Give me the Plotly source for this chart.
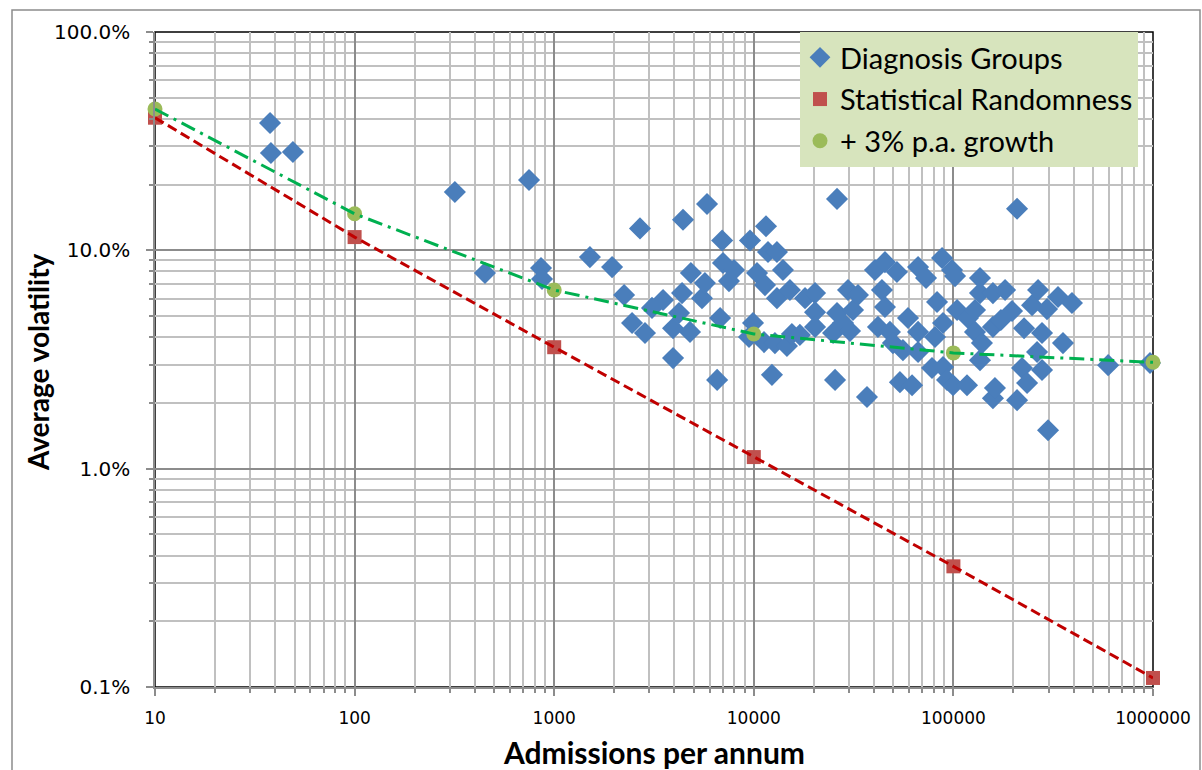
import plotly.graph_objects as go

# Diagnosis groups: admissions per annum and average volatility (%)
dg_admissions = [37.7, 38.1, 49.1, 318, 450, 748, 859, 869, 1510, 1950, 2240, 2690, 2455, 2850, 3090,
                 3510, 3940, 4220, 4370, 4790, 4840, 5500, 5690, 4420, 5830, 3940, 6550, 6780, 6940,
                 7010, 7510, 7960, 9570, 9910, 9460, 10380, 11380, 11510, 11780, 13060, 13060, 14000,
                 12330, 11250, 12760, 14660, 15170, 15520, 17020, 18060, 20270, 20270, 20270, 24950,
                 25530, 26120, 26120, 29650, 27990, 30340, 31410, 33260, 36900, 40460, 41890, 43860,
                 45410, 45410, 48090, 49780, 52130, 53960, 55860, 59230, 62080, 66510, 66510, 66510,
                 72930, 78140, 80900, 82800, 87730, 88720, 88720, 92900, 98400, 99600, 101900, 104300,
                 117000, 118300, 128300, 128300, 135900, 135900, 135900, 139000, 157800, 157800,
                 157800, 161500, 173000, 181500, 196700, 208400, 208400, 220700, 226000, 234000,
                 247800, 262500, 265600, 278000, 278000, 294500, 298000, 334300, 354000, 392700,
                 596000, 966000]
dg_volatility = [38.3, 27.9, 28.2, 18.5, 7.87, 21.0, 8.30, 7.39, 9.31, 8.38, 6.24, 12.6, 4.65, 4.18, 5.45,
                 5.92, 4.40, 5.16, 6.37, 4.23, 7.87, 6.04, 7.08, 13.8, 16.3, 3.21, 2.55, 4.90, 11.1,
                 8.75, 7.23, 8.13, 11.1, 4.65, 4.01, 7.87, 6.93, 12.9, 9.82, 9.82, 6.04, 8.13,
                 2.69, 3.80, 3.76, 3.65, 6.58, 4.14, 4.10, 6.04, 6.37, 5.21, 4.46, 4.18,
                 2.55, 17.2, 5.16, 6.58, 4.65, 4.27, 5.33, 6.24, 2.13, 8.13, 4.46, 6.58,
                 8.83, 5.50, 4.23, 3.76, 7.96, 2.49, 3.49, 4.90, 2.41, 8.38, 4.23, 3.42,
                 7.47, 2.89, 4.01, 5.80, 9.22, 4.65, 2.92, 2.55, 8.13, 2.41, 7.62, 5.33,
                 2.41, 4.90, 5.33, 4.23, 7.47, 6.37, 3.14, 3.76, 6.37, 4.46,
                 2.10, 2.34, 4.80, 6.58, 5.27, 15.5, 2.06, 2.89, 4.40, 2.47,
                 5.61, 3.42, 6.58, 4.18, 2.83, 5.38, 1.50, 6.11, 3.76, 5.74,
                 2.98, 3.05]

# Reference curves
ref_admissions = [10, 100, 1000, 10000, 100000, 1000000]
stat_volatility = [40.5, 11.5, 3.6, 1.13, 0.357, 0.11]
growth_volatility = [44.4, 14.7, 6.58, 4.14, 3.39, 3.07]

series_names = ["Diagnosis Groups", "Statistical Randomness", "+ 3% p.a. growth"]
x_tickvals = [10, 100, 1000, 10000, 100000, 1000000]
x_ticktext = ["10", "100", "1000", "10000", "100000", "1000000"]
y_tickvals = [0.1, 1, 10, 100]
y_ticktext = ["0.1%", "1.0%", "10.0%", "100.0%"]

BLUE = "#4A7EBB"
RED = "#C0504D"
GREEN = "#9BBB59"

fig = go.Figure()
fig.add_trace(go.Scatter(x=dg_admissions, y=dg_volatility, mode="markers", name=series_names[0],
                         marker=dict(symbol="diamond", size=17, color=BLUE, line=dict(width=0)),
                         cliponaxis=False, legendgroup="a"))
fig.add_trace(go.Scatter(x=ref_admissions, y=stat_volatility, mode="markers", name=series_names[1],
                         marker=dict(symbol="square", size=14, color=RED, line=dict(width=0)),
                         cliponaxis=False, legendgroup="b"))
fig.add_trace(go.Scatter(x=ref_admissions, y=growth_volatility, mode="markers", name=series_names[2],
                         marker=dict(symbol="circle", size=15, color=GREEN, line=dict(width=0)),
                         cliponaxis=False, legendgroup="c"))
fig.add_trace(go.Scatter(x=ref_admissions, y=stat_volatility, mode="lines", showlegend=False,
                         line=dict(color="#C00000", width=3, dash="10px,5px"), cliponaxis=False,
                         hoverinfo="skip"))
fig.add_trace(go.Scatter(x=ref_admissions, y=growth_volatility, mode="lines", showlegend=False,
                         line=dict(color="#00B050", width=3, dash="15px,6px,3px,6px"), cliponaxis=False,
                         hoverinfo="skip"))

W, H = 1202, 770
L, R, T, B = 155, 1153, 32, 687

def px_x(p):
    return (p - L) / (R - L)

def px_y(p):
    return (B - p) / (B - T)

minor_style = dict(dtick="D1", ticks="outside", ticklen=4, tickcolor="#8C8C8C", tickwidth=1.5,
                   showgrid=True, gridcolor="#C0C0C0", gridwidth=1.5)
fig.update_xaxes(type="log", range=[1, 6], tickvals=x_tickvals, ticktext=x_ticktext,
                 showgrid=True, gridcolor="#8C8C8C", gridwidth=1.5,
                 showline=True, linecolor="#8C8C8C", linewidth=1.5,
                 ticks="outside", ticklen=7, tickcolor="#8C8C8C", tickwidth=1.5,
                 tickfont=dict(family="DejaVu Sans", size=17, color="#000000"),
                 ticklabelstandoff=8, zeroline=False, minor=minor_style)
fig.update_yaxes(type="log", range=[-1, 2], tickvals=y_tickvals, ticktext=y_ticktext,
                 showgrid=True, gridcolor="#8C8C8C", gridwidth=1.5,
                 showline=True, linecolor="#8C8C8C", linewidth=1.5,
                 ticks="outside", ticklen=7, tickcolor="#8C8C8C", tickwidth=1.5,
                 tickfont=dict(family="DejaVu Sans", size=20, color="#000000"),
                 ticklabelstandoff=12, zeroline=False, minor=minor_style)

# plot area border (black, top/right visible) and outer chart border
fig.add_shape(type="rect", xref="paper", yref="paper", x0=0, x1=1, y0=0, y1=1,
              line=dict(color="#000000", width=1.5), layer="between")
fig.add_shape(type="rect", xref="paper", yref="paper",
              x0=px_x(12), x1=px_x(1200), y0=px_y(785), y1=px_y(10),
              line=dict(color="#8C8C8C", width=1.5), layer="below")

fig.add_annotation(text="<b>Average volatility</b>", xref="paper", yref="paper",
                   x=px_x(38), y=px_y(362), textangle=-90, showarrow=False,
                   font=dict(family="Lato", size=28, color="#000000"),
                   xanchor="center", yanchor="middle")
fig.add_annotation(text="<b>Admissions per annum</b>", xref="paper", yref="paper",
                   x=px_x(654), y=px_y(752), showarrow=False,
                   font=dict(family="Lato", size=30, color="#000000"),
                   xanchor="center", yanchor="middle")

fig.update_layout(
    width=W, height=H,
    margin=dict(l=L, r=W - R, t=T, b=H - B),
    paper_bgcolor="#FFFFFF", plot_bgcolor="#FFFFFF",
    showlegend=True,
    legend=dict(x=px_x(800), y=1, xanchor="left", yanchor="top",
                bgcolor="#D7E4BD", borderwidth=0,
                font=dict(family="Lato", size=29, color="#000000"),
                tracegroupgap=1, itemsizing="trace"),
)

fig.write_html("out.html", config={"displayModeBar": False},
               post_script="document.body.style.margin='0';")
